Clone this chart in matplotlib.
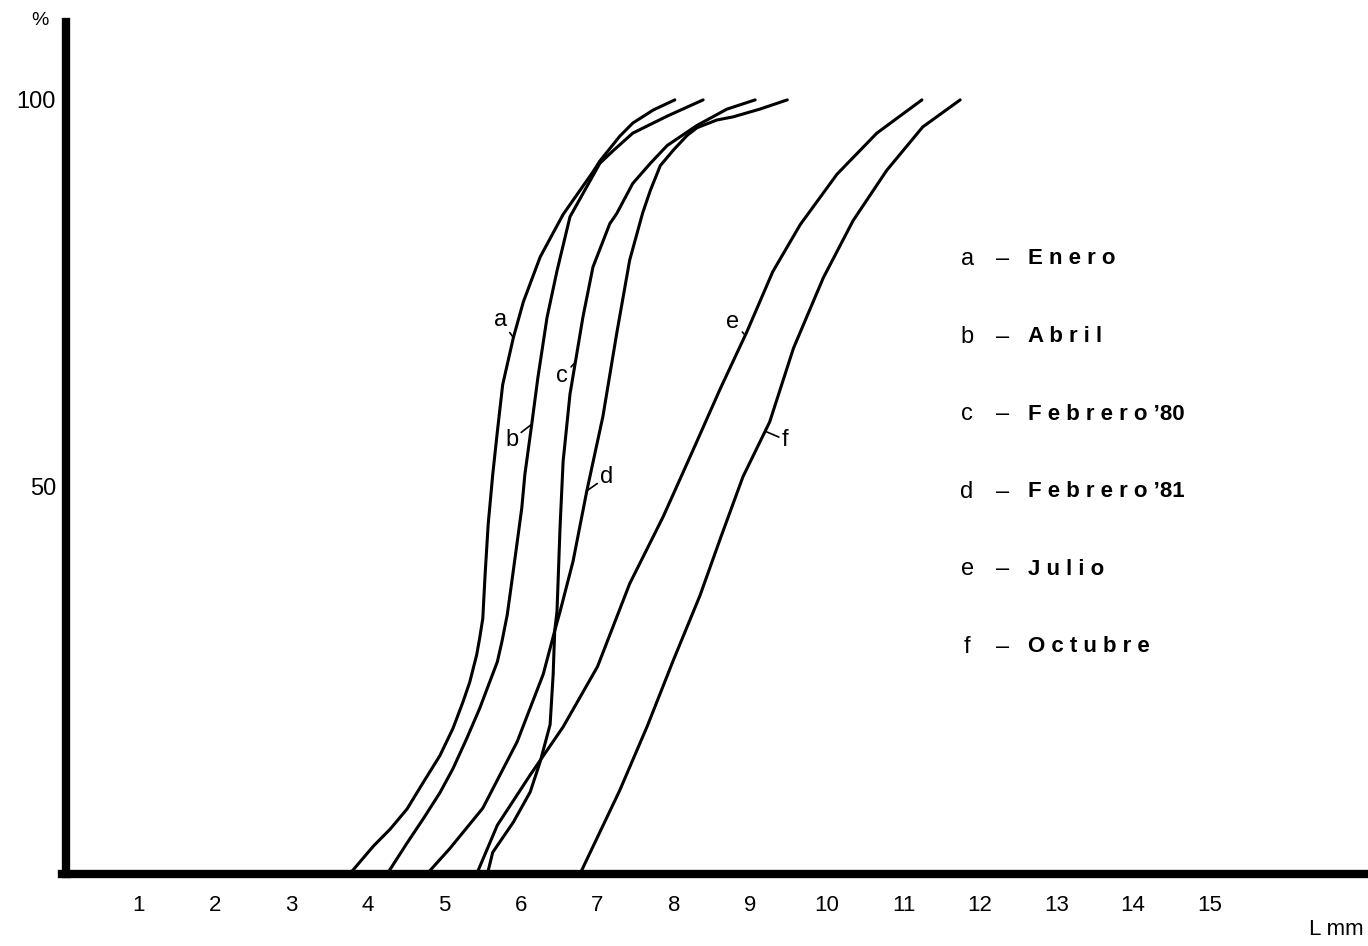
import matplotlib
matplotlib.use("Agg")
import matplotlib.pyplot as plt

plt.rcParams['font.family'] = ['Liberation Sans', 'DejaVu Sans']

# curvas acumuladas (%) frente a longitud L (mm)
a_x = [3.76, 4.07, 4.29, 4.51, 4.72, 4.94, 5.11, 5.24, 5.33, 5.42, 5.46, 5.50, 5.53, 5.57, 5.63, 5.69,
       5.76, 5.90, 6.03, 6.25, 6.55, 6.94, 7.03, 7.16, 7.29, 7.46, 7.73, 8.01]
a_y = [0, 3.6, 5.8, 8.4, 11.8, 15.3, 18.8, 22.2, 24.8, 28.3, 30.5, 33.0, 38.6, 45.1, 51.6, 57.1,
       63.2, 69.3, 73.9, 79.7, 85.2, 90.7, 92.1, 93.7, 95.3, 97.0, 98.7, 100]

b_x = [4.25, 4.51, 4.72, 4.94, 5.11, 5.29, 5.46, 5.59, 5.69, 5.75, 5.82, 5.88, 5.95, 6.01, 6.05, 6.14,
       6.22, 6.34, 6.47, 6.64, 6.90, 7.03, 7.20, 7.46, 7.91, 8.38]
b_y = [0, 4.0, 7.1, 10.5, 13.6, 17.5, 21.4, 24.8, 27.4, 30.0, 33.5, 37.8, 42.9, 47.3, 51.6, 58.1,
       64.1, 71.9, 77.9, 84.9, 89.5, 91.8, 93.4, 95.7, 97.9, 100]

c_x = [5.56, 5.63, 5.90, 6.12, 6.25, 6.38, 6.42, 6.44, 6.47, 6.51, 6.55, 6.64, 6.71, 6.81, 6.94, 7.16,
       7.25, 7.46, 7.69, 7.91, 8.12, 8.30, 8.69, 9.06]
c_y = [0, 2.8, 6.7, 10.6, 14.5, 19.3, 25.8, 31.4, 33.9, 44.8, 53.3, 62.0, 66.1, 72.0, 78.4, 84.0,
       85.3, 89.2, 91.8, 94.1, 95.5, 96.7, 98.8, 100]

d_x = [4.77, 5.07, 5.50, 5.95, 6.29, 6.44, 6.51, 6.68, 6.86, 7.07, 7.25, 7.42, 7.59, 7.69, 7.82, 7.99,
       8.17, 8.30, 8.56, 8.77, 9.12, 9.48]
d_y = [0, 3.3, 8.5, 17.1, 25.8, 31.4, 33.9, 40.4, 49.5, 59.1, 69.8, 79.3, 85.4, 88.3, 91.5, 93.5,
       95.4, 96.4, 97.4, 97.8, 98.8, 100]

e_x = [5.42, 5.69, 6.12, 6.55, 7.00, 7.42, 7.86, 8.25, 8.60, 8.95, 9.29, 9.65, 10.13, 10.65, 11.24]
e_y = [0, 6.3, 12.8, 19.0, 26.8, 37.5, 46.2, 54.8, 62.6, 70.0, 77.8, 83.9, 90.4, 95.7, 100]

f_x = [6.77, 7.29, 7.65, 7.99, 8.34, 8.60, 8.90, 9.25, 9.56, 9.95, 10.34, 10.78, 11.25, 11.74]
f_y = [0, 10.8, 19.1, 27.6, 36.0, 43.2, 51.3, 58.4, 67.9, 77.0, 84.4, 90.9, 96.5, 100]

letras = ['a', 'b', 'c', 'd', 'e', 'f']
meses = ['Enero', 'Abril', 'Febrero’80', 'Febrero’81', 'Julio', 'Octubre']

# donde va la letra junto a cada curva y el punto de la curva al que apunta
label_pos = [(5.73, 71.6), (5.88, 56.1), (6.54, 64.3), (7.12, 51.3), (8.77, 71.3), (9.45, 56.1)]
label_tgt = [(5.90, 69.3), (6.14, 58.1), (6.71, 66.1), (6.86, 49.5), (8.93, 69.6), (9.19, 57.2)]

xticks = list(range(1, 16))
yticks = [50, 100]

fig = plt.figure(figsize=(13.68, 9.46), dpi=100)
ax = fig.add_axes([0, 0, 1, 1])
ax.set_xlim(-0.810, 17.07)
ax.set_ylim(-9.30, 112.9)

for xs, ys in [(a_x, a_y), (b_x, b_y), (c_x, c_y), (d_x, d_y), (e_x, e_y), (f_x, f_y)]:
    ax.plot(xs, ys, color='black', lw=2.2, solid_capstyle='round', solid_joinstyle='round')

for let, (tx, ty), (px, py) in zip(letras, label_pos, label_tgt):
    ax.annotate(let, xy=(px, py), xytext=(tx, ty), ha='center', va='center', fontsize=17,
                arrowprops=dict(arrowstyle='-', lw=1.2, color='black', shrinkA=0, shrinkB=0))

# ejes gruesos
for s in ['top', 'right']:
    ax.spines[s].set_visible(False)
ax.spines['left'].set_position(('data', 0.05))
ax.spines['left'].set_bounds(0, 110.1)
ax.spines['left'].set_linewidth(6)
ax.spines['bottom'].set_position(('data', 0))
ax.spines['bottom'].set_bounds(0, 17.07)
ax.spines['bottom'].set_linewidth(6)

ax.set_xticks(xticks)
ax.set_xticklabels([str(t) for t in xticks])
ax.set_yticks(yticks)
ax.set_yticklabels([str(t) for t in yticks])
ax.tick_params(axis='x', length=0, pad=15, labelsize=16)
ax.tick_params(axis='y', length=0, pad=7, labelsize=17)

ax.text(-0.29, 110.3, '%', fontsize=14, ha='center', va='center')
ax.text(16.65, -7.2, 'L mm', fontsize=16, ha='center', va='center')

# leyenda a mano
for i, (let, mes) in enumerate(zip(letras, meses)):
    y = (874 - (259 + 77.6 * i)) / 7.74
    ax.text(11.83, y, let, fontsize=17, ha='center', va='center')
    ax.text(12.30, y, '–', fontsize=17, ha='center', va='center')
    if '’' in mes:
        word = ' '.join(mes[:7]) + ' ’' + mes[8:]
    else:
        word = ' '.join(mes)
    ax.text(12.62, y, word, fontsize=16, ha='left', va='center', fontweight='bold')

fig.savefig('out.png', dpi=100)
